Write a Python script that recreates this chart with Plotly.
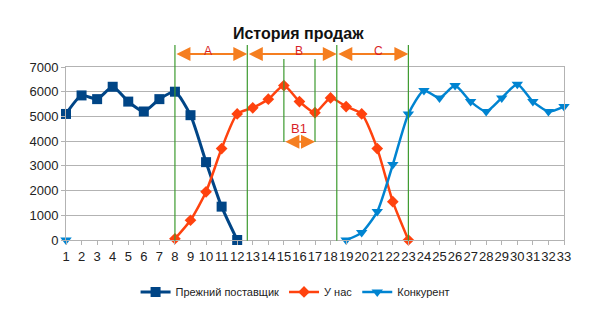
import plotly.graph_objects as go

categories = list(range(1, 34))
prev_supplier = [5100, 5850, 5700, 6200, 5600, 5200, 5700, 6000, 5050, 3150, 1350, 0] + [None] * 21
us = [None] * 7 + [50, 800, 1950, 3700, 5100, 5350, 5700, 6250, 5600, 5150, 5750, 5400, 5100, 3700, 1550, 0] + [None] * 10
competitor = [0] + [None] * 17 + [0, 300, 1150, 3050, 5100, 6050, 5750, 6250, 5600, 5200, 5750, 6300, 5600, 5200, 5400]
y_ticks = [0, 1000, 2000, 3000, 4000, 5000, 6000, 7000]

# annotation geometry (category positions)
main_lines = [8, 12.65, 18.4, 23]
b1_lines = [15, 17]
segments = [("A", 8, 12.65, 10.1), ("B", 12.65, 18.4, 15.95), ("C", 18.4, 23, 21.1)]

fig = go.Figure()
fig.add_trace(go.Scatter(x=categories, y=prev_supplier, name="Прежний поставщик", mode="lines+markers",
                         line=dict(color="#004586", width=3, shape="spline", smoothing=0.6),
                         marker=dict(symbol="square", size=10, color="#004586"), cliponaxis=False))
fig.add_trace(go.Scatter(x=categories, y=us, name="У нас", mode="lines+markers",
                         line=dict(color="#ff420e", width=2.5, shape="spline", smoothing=0.6),
                         marker=dict(symbol="diamond", size=9, color="#ff420e"), cliponaxis=False))
fig.add_trace(go.Scatter(x=categories, y=competitor, name="Конкурент", mode="lines+markers",
                         line=dict(color="#0084d1", width=2.5, shape="spline", smoothing=0.6),
                         marker=dict(symbol="triangle-down", size=10, color="#0084d1"), cliponaxis=False))

shapes = []
for xv in main_lines:
    shapes.append(dict(type="line", xref="x", yref="paper", x0=xv, x1=xv, y0=-0.005, y1=1.127,
                       line=dict(color="#3c9a2e", width=1.2)))
for xv in b1_lines:
    shapes.append(dict(type="line", xref="x", yref="paper", x0=xv, x1=xv, y0=0.566, y1=1.046,
                       line=dict(color="#3c9a2e", width=1.2)))

annotations = []
arrow_col = "#f57e20"
for label, a, b, c in segments:
    annotations.append(dict(x=b, y=1.075, xref="x", yref="paper", ax=a, ay=0, axref="x", ayref="pixel",
                            text="", showarrow=True, arrowhead=2, arrowside="end+start",
                            arrowsize=1.4, arrowwidth=2, arrowcolor=arrow_col, standoff=0, startstandoff=0))
    annotations.append(dict(x=c, y=1.092, xref="x", yref="paper", text=label, showarrow=False,
                            font=dict(family="Liberation Sans, Arial", size=12, color="#d81e28"),
                            yanchor="middle"))
annotations.append(dict(x=17, y=0.568, xref="x", yref="paper", ax=15, ay=0, axref="x", ayref="pixel",
                        text="", showarrow=True, arrowhead=2, arrowside="end+start",
                        arrowsize=1.4, arrowwidth=2, arrowcolor=arrow_col, standoff=0, startstandoff=0))
annotations.append(dict(x=16, y=0.646, xref="x", yref="paper", text="B1", showarrow=False,
                        font=dict(family="Liberation Sans, Arial", size=13, color="#d81e28"),
                        yanchor="middle"))

fig.update_layout(
    width=600, height=318,
    margin=dict(l=66, r=36, t=67, b=78),
    paper_bgcolor="white", plot_bgcolor="white",
    font=dict(family="Liberation Sans, Arial", size=12, color="#222"),
    title=dict(text="<b>История продаж</b>", x=0.497, xanchor="center", y=1 - 33 / 318,
               yref="container", yanchor="middle",
               font=dict(family="Liberation Sans, Arial", size=16, color="#111")),
    xaxis=dict(range=[1, 33], tickmode="array", tickvals=categories, ticktext=[str(c) for c in categories],
               tickangle=0, showgrid=False, showline=True, linecolor="#b3b3b3", linewidth=1, mirror=True,
               ticks="outside", ticklen=4, tickcolor="#b3b3b3", zeroline=False,
               tickfont=dict(size=13, color="#222")),
    yaxis=dict(range=[0, 7000], tickmode="array", tickvals=y_ticks, ticktext=[str(v) for v in y_ticks],
               showgrid=True, gridcolor="#b3b3b3", gridwidth=1, showline=True, linecolor="#b3b3b3",
               mirror=True, ticks="outside", ticklen=4, tickcolor="#b3b3b3", zeroline=False,
               tickfont=dict(size=13, color="#222")),
    legend=dict(orientation="h", x=0.46, xanchor="center", y=-0.30, yanchor="middle",
                font=dict(size=11, color="#222"), itemwidth=30, tracegroupgap=0),
    shapes=shapes,
    annotations=annotations,
)

fig.write_html("out.html")
